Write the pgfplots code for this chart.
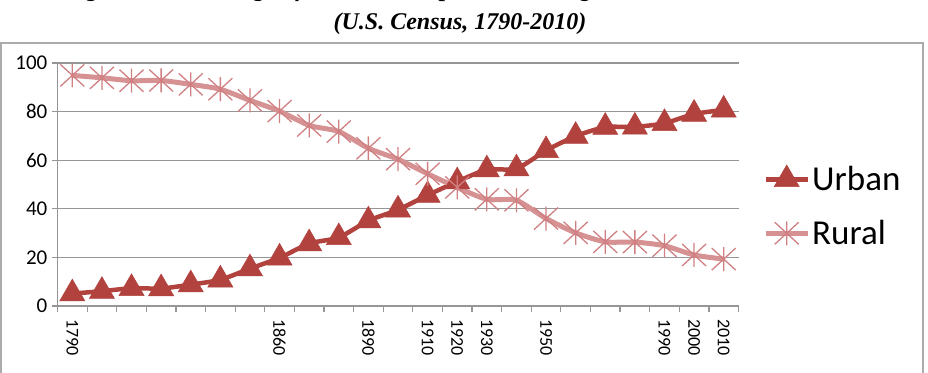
\documentclass[border=0pt]{standalone}
\usepackage{fontspec}
\setmainfont{Carlito}
\newfontfamily\tfont{Liberation Serif}
\usepackage{pgfplots}
\pgfplotsset{compat=1.18}
\definecolor{urb}{RGB}{178,66,62}
\definecolor{rur}{RGB}{214,146,146}
\definecolor{rurm}{RGB}{208,128,130}
\definecolor{gridc}{RGB}{150,150,150}
\pgfdeclareplotmark{xstar}{%
  \pgfpathmoveto{\pgfqpoint{0pt}{\pgfplotmarksize}}%
  \pgfpathlineto{\pgfqpoint{0pt}{-\pgfplotmarksize}}%
  \pgfpathmoveto{\pgfqpoint{-\pgfplotmarksize}{0.92\pgfplotmarksize}}%
  \pgfpathlineto{\pgfqpoint{\pgfplotmarksize}{-0.92\pgfplotmarksize}}%
  \pgfpathmoveto{\pgfqpoint{-\pgfplotmarksize}{-0.92\pgfplotmarksize}}%
  \pgfpathlineto{\pgfqpoint{\pgfplotmarksize}{0.92\pgfplotmarksize}}%
  \pgfusepathqstroke}
\pgfplotstableread{
x urban rural
0 5.1 94.9
1 6.1 93.9
2 7.3 92.7
3 7.2 92.8
4 8.8 91.2
5 10.8 89.2
6 15.4 84.6
7 19.8 80.2
8 25.7 74.3
9 28.2 71.8
10 35.1 64.9
11 39.6 60.4
12 45.6 54.4
13 51.2 48.8
14 56.1 43.9
15 56.5 43.5
16 64.0 36.0
17 69.9 30.1
18 73.6 26.4
19 73.7 26.3
20 75.2 24.8
21 79.0 21.0
22 80.7 19.3
}\datatable
\begin{document}
\begin{tikzpicture}[x=1pt,y=1pt]
\useasboundingbox (0,0) rectangle (928,372);
\clip (0,0) rectangle (928,372);
\draw[gridc!80, line width=1.5pt] (0.8,-5) rectangle (923,329);
\node[anchor=base, inner sep=0pt, font=\tfont\bfseries\itshape\fontsize{24}{24}\selectfont] at (460,342) {(U.S. Census, 1790-2010)};
\node[anchor=base, inner sep=0pt, font=\tfont\bfseries\itshape\fontsize{24}{24}\selectfont] at (462,375) {Figure 1: Percentage of Total U.S. Population Living in Urban and Rural Areas};
\begin{axis}[
  at={(57.5pt,66pt)}, anchor=south west,
  scale only axis, width=681pt, height=243pt,
  xmin=-0.5, xmax=22.5, ymin=0, ymax=100,
  axis x line*=bottom, axis y line*=left,
  axis line style={gridc, line width=1.2pt, -},
  ytick={0,20,...,100},
  ymajorgrids, grid style={gridc, line width=1.2pt},
  xtick={-0.5,0.5,...,22.5},
  xticklabels={},
  extra x ticks={0,7,10,12,13,14,16,20,21,22},
  extra x tick labels={1790,1860,1890,1910,1920,1930,1950,1990,2000,2010},
  extra x tick style={major tick length=0pt, grid=none},
  xtick pos=bottom, ytick pos=left,
  xtick align=outside,
  ytick align=outside,
  major tick length=6pt,
  x tick style={draw=gridc, line width=1.2pt},
  y tick style={draw=gridc, line width=1.2pt},
  /pgf/number format/assume math mode=true,
  yticklabel style={font=\fontsize{21}{21}\selectfont, inner sep=0pt, xshift=-4pt},
  xticklabel style={font=\fontsize{18}{18}\selectfont, rotate=-90, anchor=west, inner sep=0pt},
  xticklabel shift=13pt,
  legend style={at={(1.036,0.41)}, anchor=west, draw=none, fill=none,
    font=\fontsize{35}{35}\selectfont, row sep=24pt, inner sep=0pt,
    /tikz/every even column/.append style={column sep=2pt}},
  legend cell align=left,
  legend image code/.code={\draw[mark repeat=2,mark phase=2,#1] plot coordinates {(0pt,0pt) (21pt,0pt) (42pt,0pt)};},
]
\addplot[urb, line width=4.5pt, smooth, tension=0.4, mark=triangle*, mark size=14.5pt, mark options={line width=0.5pt, fill=urb, solid}] table[x=x,y=urban] {\datatable};
\addlegendentry{Urban}
\addplot[rur, line width=5pt, smooth, tension=0.4, mark=xstar, mark size=12pt, mark options={line width=1.3pt, draw=rurm, solid}] table[x=x,y=rural] {\datatable};
\addlegendentry{Rural}
\end{axis}
\end{tikzpicture}
\end{document}
